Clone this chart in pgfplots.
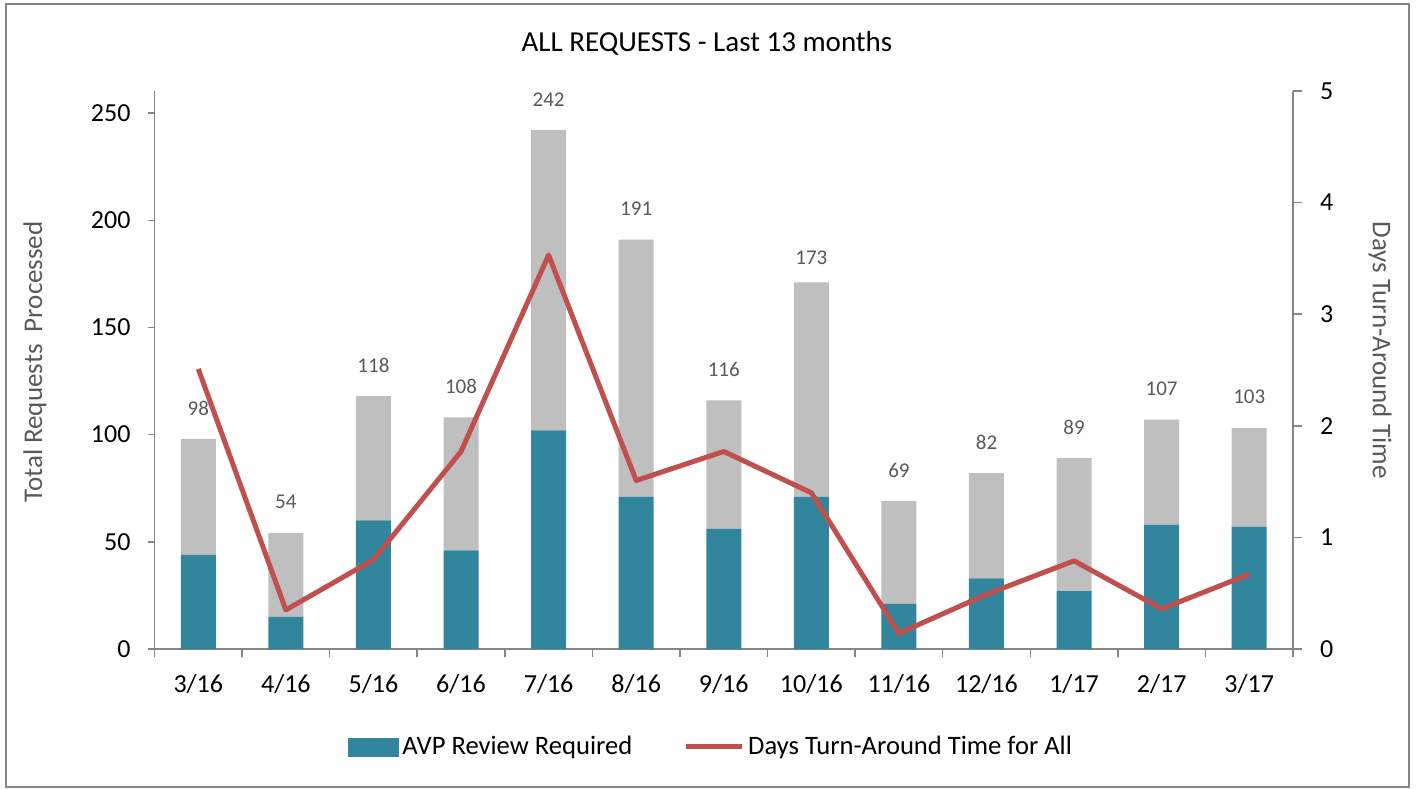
\documentclass[border=0pt]{standalone}
\usepackage{pgfplots}
\usepackage{pgfplotstable}
\pgfplotsset{compat=1.18}
\usepackage{fontspec}
\setmainfont{Carlito}
\definecolor{avpteal}{HTML}{31859C}
\definecolor{reqgray}{HTML}{BFBFBF}
\definecolor{reqred}{HTML}{C0504D}
\definecolor{axgray}{HTML}{868686}
\definecolor{labgray}{HTML}{595959}

\pgfplotstableread{
x avp other top total
0 44 54 98 98
1 15 39 54 54
2 60 58 118 118
3 46 62 108 108
4 102 140 242 242
5 71 120 191 191
6 56 60 116 116
7 71 100 168.2 173
8 21 48 69 69
9 33 49 82 82
10 27 62 89 89
11 58 49 107 107
12 57 46 103 103
}\bars

\pgfplotstableread{
x days
0 2.51
1 0.35
2 0.80
3 1.77
4 3.53
5 1.51
6 1.77
7 1.40
8 0.14
9 0.49
10 0.79
11 0.36
12 0.67
}\days

\begin{document}
\begin{tikzpicture}[x=1pt,y=1pt]
\path (0,0) rectangle (708,394);
\draw[axgray, line width=1pt] (3,0.5) rectangle (704.5,392);
\node[font=\fontsize{14.5}{16}\selectfont] at (353.5,372.5) {ALL REQUESTS - Last 13 months};
\node[font=\fontsize{13.5}{15}\selectfont, text=labgray, rotate=90] at (17.5,213) {Total Requests\ \ Processed};
\node[font=\fontsize{13.5}{15}\selectfont, text=labgray, rotate=-90] at (690,219) {Days Turn-Around Time};

\begin{axis}[
  at={(77.25pt,69.5pt)}, anchor=south west,
  scale only axis, width=569.25pt, height=279pt,
  ybar stacked, bar width=17.5pt,
  xmin=-0.5, xmax=12.5, ymin=0, ymax=260.3,
  ytick={0,50,...,250},
  xtick={0,...,12},
  xticklabels={3/16,4/16,5/16,6/16,7/16,8/16,9/16,10/16,11/16,12/16,1/17,2/17,3/17},
  minor xtick={-0.5,0.5,...,12.5},
  axis x line*=bottom, axis y line*=left,
  axis line style={draw=axgray, line width=0.75pt, -},
  tick align=outside, major tick length=3.5pt, minor tick length=4pt,
  tick style={draw=axgray, line width=0.75pt},
  major x tick style={draw=none},
  ticklabel style={font=\fontsize{13}{15}\selectfont},
  yticklabel style={xshift=-5pt},
  xticklabel style={yshift=-5.5pt},
  /pgf/number format/assume math mode=true,
  clip=false,
]
\addplot[fill=avpteal, draw=none] table[x=x,y=avp]{\bars};
\addplot[fill=reqgray, draw=none] table[x=x,y=other]{\bars};
\end{axis}

\begin{axis}[
  at={(77.25pt,69.5pt)}, anchor=south west,
  scale only axis, width=569.25pt, height=279pt,
  xmin=-0.5, xmax=12.5, ymin=0, ymax=260.3,
  hide axis, clip=false,
]
\addplot[draw=none, mark=none, nodes near coords, point meta=explicit symbolic,
  nodes near coords style={anchor=center, yshift=15.5pt, font=\fontsize{10.5}{12}\selectfont, text=labgray}]
  table[x=x,y=top,meta=total]{\bars};
\end{axis}

\begin{axis}[
  at={(77.25pt,69.5pt)}, anchor=south west,
  scale only axis, width=569.25pt, height=279pt,
  xmin=-0.5, xmax=12.5, ymin=0, ymax=5,
  ytick={0,...,5},
  axis x line=none, axis y line*=right,
  axis line style={draw=axgray, line width=0.75pt, -},
  tick align=outside, major tick length=4.5pt,
  tick style={draw=axgray, line width=0.75pt},
  ticklabel style={font=\fontsize{13}{15}\selectfont},
  yticklabel style={xshift=5.5pt},
  /pgf/number format/assume math mode=true,
  legend columns=2,
  legend style={at={(0.4895,-0.1756)}, anchor=center, draw=none, fill=none,
    font=\fontsize{13.3}{15}\selectfont,
    /tikz/every even column/.append style={column sep=23.5pt}},
  clip=false,
]
\addlegendimage{legend image code/.code={\fill[avpteal] (0pt,-4.5pt) rectangle (25pt,4.5pt);}}
\addlegendentry{AVP Review Required}
\addplot[color=reqred, line width=2.5pt, line join=round,
  legend image code/.code={\draw[reqred, line width=2.5pt] (0pt,0pt) -- (28pt,0pt);}]
  table[x=x,y=days]{\days};
\addlegendentry{Days Turn-Around Time for All}
\end{axis}
\end{tikzpicture}
\end{document}
